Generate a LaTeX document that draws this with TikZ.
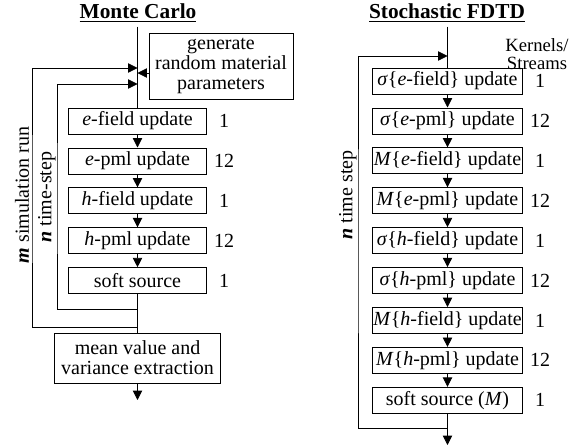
\documentclass[tikz,border=0pt]{standalone}
\usepackage{fontspec}
\setmainfont{Liberation Serif}
\usetikzlibrary{arrows.meta}
\begin{document}
\begin{tikzpicture}[x=0.75pt, y=-0.75pt, line width=0.6pt,
  font=\fontsize{15}{15}\selectfont,
  box/.style={draw, minimum height=19.5pt, inner sep=0pt},
  lbox/.style={box, minimum width=104pt},
  rbox/.style={box, minimum width=113pt},
  title/.style={font=\fontsize{16}{16}\selectfont\bfseries},
  tip/.style={-{Triangle[length=7pt,width=7pt]}}]
\useasboundingbox (0,0) rectangle (578,447);
% Monte Carlo
\node[title] (mc) at (138,13) {\underline{Monte Carlo}};
\node[draw, minimum width=108pt, minimum height=49.5pt, align=center, inner sep=0pt] (gen) at (221,66) {generate\\random material\\parameters};
\node[lbox] (ef) at (137.5,121) {\textit{e}-field update};
\node[lbox] (ep) at (137.5,160.9) {\textit{e}-pml update};
\node[lbox] (hf) at (137.5,200.8) {\textit{h}-field update};
\node[lbox] (hp) at (137.5,240.7) {\textit{h}-pml update};
\node[lbox] (ss) at (137.5,280.6) {soft source};
\node[draw, minimum width=124pt, minimum height=37.5pt, align=center, inner sep=0pt] (mean) at (137.5,358) {mean value and\\variance extraction};
\node (nef) at (224,121) {1};
\node (nep) at (224,160.9) {12};
\node (nhf) at (224,200.8) {1};
\node (nhp) at (224,240.7) {12};
\node (nss) at (224,280.6) {1};
\node[rotate=90] (mrun) at (22,195) {\textbf{\textit{m}} simulation run};
\node[rotate=90] (nstep) at (47,197) {\textbf{\textit{n}} time-step};
\coordinate (min) at (137.5,68);
\coordinate (gin) at (137.5,73);
\coordinate (nin) at (137.5,84);
\coordinate (nout) at (137.5,309);
\coordinate (mout) at (137.5,327);
\coordinate (mleft) at (32,200);
\coordinate (nleft) at (57,200);
\coordinate (lend) at (137.5,400);
\draw (ef.north |- mc.south) -- (ef.north);
\draw[tip] (gen.west |- gin) -- (gin);
\draw[tip] (mout) -| (mleft) |- (min);
\draw[tip] (nout) -| (nleft) |- (nin);
\draw[tip] (ef) -- (ep);
\draw[tip] (ep) -- (hf);
\draw[tip] (hf) -- (hp);
\draw[tip] (hp) -- (ss);
\draw (ss) -- (mean);
\draw[tip] (mean) -- (lend);
% Stochastic FDTD
\node[title] (sf) at (447,13) {\underline{Stochastic FDTD}};
\node[align=center, font=\fontsize{14}{13}\selectfont] (ks) at (537,54) {Kernels/\\Streams};
\node[rbox] (r1) at (447.5,81) {\textit{σ}\{\textit{e}-field\} update};
\node[rbox] (r2) at (447.5,120.9) {\textit{σ}\{\textit{e}-pml\} update};
\node[rbox] (r3) at (447.5,160.8) {\textit{M}\{\textit{e}-field\} update};
\node[rbox] (r4) at (447.5,200.7) {\textit{M}\{\textit{e}-pml\} update};
\node[rbox] (r5) at (447.5,240.6) {\textit{σ}\{\textit{h}-field\} update};
\node[rbox] (r6) at (447.5,280.5) {\textit{σ}\{\textit{h}-pml\} update};
\node[rbox] (r7) at (447.5,320.4) {\textit{M}\{\textit{h}-field\} update};
\node[rbox] (r8) at (447.5,360.3) {\textit{M}\{\textit{h}-pml\} update};
\node[rbox] (r9) at (447.5,400.2) {soft source (\textit{M})};
\node (k1) at (540,81) {1};
\node (k2) at (540,120.9) {12};
\node (k3) at (540,160.8) {1};
\node (k4) at (540,200.7) {12};
\node (k5) at (540,240.6) {1};
\node (k6) at (540,280.5) {12};
\node (k7) at (540,320.4) {1};
\node (k8) at (540,360.3) {12};
\node (k9) at (540,400.2) {1};
\node[rotate=90] (rstep) at (348,195) {\textbf{\textit{n}} time step};
\coordinate (rin) at (447.5,56);
\coordinate (rout) at (447.5,428);
\coordinate (rleft) at (358,240);
\coordinate (rend) at (447.5,445);
\draw (r1.north |- sf.south) -- (r1.north);
\draw[tip] (rout) -| (rleft) |- (rin);
\foreach \a/\b in {r1/r2,r2/r3,r3/r4,r4/r5,r5/r6,r6/r7,r7/r8,r8/r9}
  \draw[tip] (\a) -- (\b);
\draw[tip] (r9) -- (rend);
\end{tikzpicture}
\end{document}
